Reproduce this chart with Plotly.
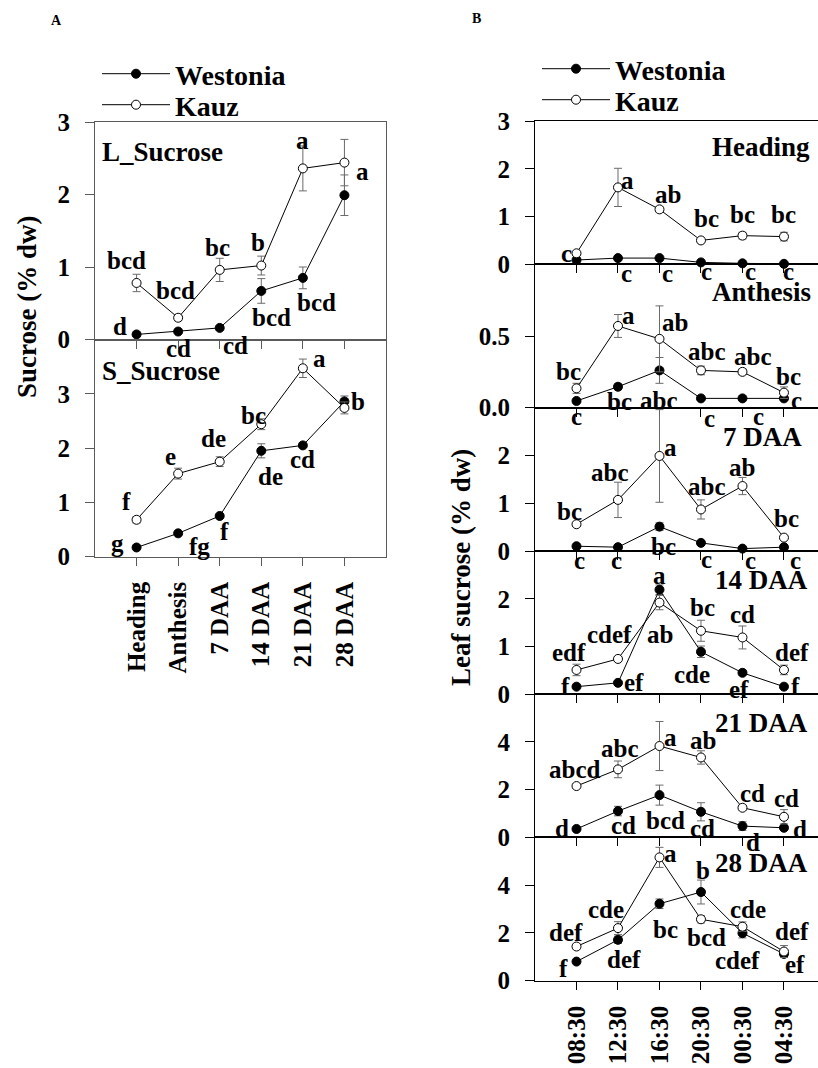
import plotly.graph_objects as go

W, H = 818, 1068

# ---------------- data ----------------
stages = ["Heading", "Anthesis", "7 DAA", "14 DAA", "21 DAA", "28 DAA"]
times = ["08:30", "12:30", "16:30", "20:30", "00:30", "04:30"]

# Panel A – L_Sucrose
L_west = [0.07, 0.11, 0.16, 0.67, 0.85, 1.99]
L_west_err = [0.02, 0.02, 0.02, 0.17, 0.15, 0.28]
L_kauz = [0.78, 0.30, 0.96, 1.02, 2.36, 2.44]
L_kauz_err = [0.12, 0.04, 0.16, 0.13, 0.31, 0.32]
L_west_let = ["d", "cd", "cd", "bcd", "bcd", ""]
L_kauz_let = ["bcd", "bcd", "bc", "b", "a", "a"]

# Panel A – S_Sucrose
S_west = [0.17, 0.43, 0.75, 1.95, 2.05, 2.86]
S_west_err = [0.03, 0.03, 0.03, 0.13, 0.04, 0.10]
S_kauz = [0.68, 1.53, 1.75, 2.44, 3.47, 2.74]
S_kauz_err = [0.06, 0.10, 0.09, 0.10, 0.17, 0.11]
S_west_let = ["g", "fg", "f", "de", "cd", "b"]
S_kauz_let = ["f", "e", "de", "bc", "a", ""]

# Panel B – leaf sucrose over the day
hd_west = [0.09, 0.13, 0.13, 0.04, 0.02, 0.01]
hd_west_err = [0.02, 0.02, 0.02, 0.01, 0.01, 0.01]
hd_kauz = [0.23, 1.61, 1.15, 0.50, 0.60, 0.58]
hd_kauz_err = [0.03, 0.40, 0.05, 0.05, 0.07, 0.09]
hd_west_let = ["", "c", "c", "c", "c", "c"]
hd_kauz_let = ["c", "a", "ab", "bc", "bc", "bc"]

an_west = [0.047, 0.146, 0.26, 0.065, 0.065, 0.065]
an_west_err = [0.01, 0.02, 0.09, 0.005, 0.005, 0.005]
an_kauz = [0.135, 0.57, 0.48, 0.26, 0.25, 0.105]
an_kauz_err = [0.035, 0.08, 0.23, 0.03, 0.02, 0.04]
an_west_let = ["c", "bc", "abc", "c", "c", "c"]
an_kauz_let = ["bc", "a", "ab", "abc", "abc", "bc"]

d7_west = [0.10, 0.08, 0.51, 0.17, 0.05, 0.08]
d7_west_err = [0.02, 0.02, 0.08, 0.02, 0.02, 0.02]
d7_kauz = [0.56, 1.07, 1.99, 0.87, 1.36, 0.28]
d7_kauz_err = [0.04, 0.37, 0.97, 0.20, 0.18, 0.04]
d7_west_let = ["c", "c", "bc", "c", "c", "c"]
d7_kauz_let = ["bc", "abc", "a", "abc", "ab", "bc"]

d14_west = [0.16, 0.24, 2.19, 0.89, 0.45, 0.16]
d14_west_err = [0.03, 0.03, 0.10, 0.12, 0.04, 0.03]
d14_kauz = [0.51, 0.74, 1.92, 1.33, 1.19, 0.51]
d14_kauz_err = [0.12, 0.04, 0.15, 0.22, 0.24, 0.10]
d14_west_let = ["f", "ef", "a", "cde", "ef", "f"]
d14_kauz_let = ["edf", "cdef", "ab", "bc", "cd", "def"]

d21_west = [0.35, 1.10, 1.77, 1.07, 0.47, 0.40]
d21_west_err = [0.05, 0.20, 0.42, 0.38, 0.18, 0.08]
d21_kauz = [2.15, 2.85, 3.83, 3.35, 1.24, 0.86]
d21_kauz_err = [0.08, 0.35, 1.03, 0.28, 0.10, 0.30]
d21_west_let = ["d", "cd", "bcd", "cd", "d", "d"]
d21_kauz_let = ["abcd", "abc", "a", "ab", "cd", "cd"]

d28_west = [0.80, 1.71, 3.22, 3.71, 1.99, 1.12]
d28_west_err = [0.08, 0.15, 0.20, 0.50, 0.20, 0.15]
d28_kauz = [1.43, 2.20, 5.16, 2.57, 2.26, 1.22]
d28_kauz_err = [0.10, 0.27, 0.42, 0.15, 0.20, 0.25]
d28_west_let = ["f", "def", "bc", "b", "cdef", "ef"]
d28_kauz_let = ["def", "cde", "a", "bcd", "cde", "def"]

# ---------------- label placement (pixel offsets dx, dy; dy down) ----------------
L_west_off = [(-17, -8), (0, 17), (16, 18), (10, 27), (14, 25), (0, 0)]
L_kauz_off = [(-10, -22), (-3, -27), (-2, -22), (-3, -23), (0, -28), (18, 9)]
S_west_off = [(-19, -4), (21, 13), (5, 16), (9, 26), (0, 14), (14, 0)]
S_kauz_off = [(-10, -18), (-8, -17), (-6, -23), (-8, -9), (17, -10), (0, 0)]
hd_west_off = [(0, 0), (9, 15), (8, 15), (6, 9), (8, 8), (5, 8)]
hd_kauz_off = [(-10, 0), (10, -7), (9, -15), (6, -22), (0, -21), (0, -22)]
an_west_off = [(0, 16), (2, 15), (0, 30), (9, 20), (16, 18), (13, 2)]
an_kauz_off = [(-8, -17), (11, -10), (16, -16), (6, -19), (11, -15), (5, -16)]
d7_west_off = [(3, 14), (-1, 13), (4, 20), (6, 17), (8, 12), (12, 13)]
d7_kauz_off = [(-7, -13), (-8, -27), (11, -8), (6, -23), (0, -19), (3, -19)]
d14_west_off = [(-11, 0), (16, 0), (0, -14), (-9, 23), (-3, 17), (12, 0)]
d14_kauz_off = [(-8, -17), (-8, -24), (1, 32), (2, -23), (0, -23), (8, -17)]
d21_west_off = [(-15, 0), (6, 14), (6, 25), (2, 17), (11, 16), (16, 2)]
d21_kauz_off = [(-2, -17), (2, -21), (11, -9), (2, -17), (10, -14), (3, -18)]
d28_west_off = [(-13, 7), (6, 20), (6, 26), (2, -22), (-5, 27), (11, 11)]
d28_kauz_off = [(-11, -14), (-12, -19), (11, -4), (6, 18), (6, -17), (8, -20)]

FONT = "Liberation Serif"


def py(p):
    return 1 - p / H


def px(p):
    return p / W


panels = [
    (L_west, L_west_err, L_kauz, L_kauz_err, L_west_let, L_kauz_let, L_west_off, L_kauz_off,
     "L_Sucrose", (100, 151.7, "left"), (122, 339.5), [0, 3], [0, 1, 2, 3], ["0", "1", "2", "3"], "A"),
    (S_west, S_west_err, S_kauz, S_kauz_err, S_west_let, S_kauz_let, S_west_off, S_kauz_off,
     "S_Sucrose", (100, 371, "left"), (339.5, 556.7), [0, 4], [0, 1, 2, 3], ["0", "1", "2", "3"], "A"),
    (hd_west, hd_west_err, hd_kauz, hd_kauz_err, hd_west_let, hd_kauz_let, hd_west_off, hd_kauz_off,
     "Heading", (812, 146.7, "right"), (121, 264.3), [0, 3], [0, 1, 2, 3], ["0", "1", "2", "3"], "B"),
    (an_west, an_west_err, an_kauz, an_kauz_err, an_west_let, an_kauz_let, an_west_off, an_kauz_off,
     "Anthesis", (813, 292, "right"), (264.3, 407.7), [0, 1], [0, 0.5], ["0.0", "0.5"], "B"),
    (d7_west, d7_west_err, d7_kauz, d7_kauz_err, d7_west_let, d7_kauz_let, d7_west_off, d7_kauz_off,
     "7 DAA", (804, 436.7, "right"), (407.7, 551), [0, 3], [0, 1, 2], ["0", "1", "2"], "B"),
    (d14_west, d14_west_err, d14_kauz, d14_kauz_err, d14_west_let, d14_kauz_let, d14_west_off, d14_kauz_off,
     "14 DAA", (810, 580, "right"), (551, 694.3), [0, 3], [0, 1, 2], ["0", "1", "2"], "B"),
    (d21_west, d21_west_err, d21_kauz, d21_kauz_err, d21_west_let, d21_kauz_let, d21_west_off, d21_kauz_off,
     "21 DAA", (810, 723.3, "right"), (694.3, 837.3), [0, 6], [0, 2, 4], ["0", "2", "4"], "B"),
    (d28_west, d28_west_err, d28_kauz, d28_kauz_err, d28_west_let, d28_kauz_let, d28_west_off, d28_kauz_off,
     "28 DAA", (810, 863.3, "right"), (837.3, 980.7), [0, 6], [0, 2, 4], ["0", "2", "4"], "B"),
]

fig = go.Figure()
annotations = []
layout = {}

for i, (w, we, k, ke, wl, kl, wo, ko, title, tpos, ydom, yr, tv, tt, grp) in enumerate(panels, start=1):
    cats = stages if grp == "A" else times
    xs = list(range(len(cats)))
    xa = "x" if i == 1 else f"x{i}"
    ya = "y" if i == 1 else f"y{i}"
    lc = "#5a5a5a" if grp == "A" else "#000000"
    ec = "#6a6a6a"
    first = (i == 1) or (i == 3)
    lw_name = "legend" if i == 1 else "legend3"
    lk_name = "legend2" if i == 1 else "legend4"
    fig.add_trace(go.Scatter(
        x=xs, y=w, name="Westonia", xaxis=xa, yaxis=ya, mode="lines+markers",
        line=dict(color="black", width=1),
        marker=dict(symbol="circle", size=9, color="black", line=dict(color="black", width=1)),
        error_y=dict(type="data", array=we, visible=True, color=ec, thickness=1, width=4),
        cliponaxis=False, showlegend=first, legend=lw_name))
    fig.add_trace(go.Scatter(
        x=xs, y=k, name="Kauz", xaxis=xa, yaxis=ya, mode="lines+markers",
        line=dict(color="black", width=1),
        marker=dict(symbol="circle", size=9, color="white", line=dict(color="black", width=1)),
        error_y=dict(type="data", array=ke, visible=True, color=ec, thickness=1, width=4),
        cliponaxis=False, showlegend=first, legend=lk_name))

    for vals, lets, offs in ((w, wl, wo), (k, kl, ko)):
        for xi, v, t, (dx, dy) in zip(xs, vals, lets, offs):
            if not t:
                continue
            annotations.append(dict(
                x=xi, y=v, xref=xa, yref=ya, text=t, showarrow=False,
                xshift=dx, yshift=-dy, xanchor="center", yanchor="middle",
                font=dict(family=FONT, size=25, color="black", weight="bold")))

    annotations.append(dict(
        x=px(tpos[0]), y=py(tpos[1]), xref="paper", yref="paper", text=title,
        showarrow=False, xanchor=tpos[2], yanchor="middle",
        font=dict(family=FONT, size=27, color="black", weight="bold")))

    if grp == "A":
        xdom = [px(95), px(386)]
        xr = [-1, 6]
        bottom = (i == 2)
    else:
        xdom = [px(535), 1.0]
        xr = [-1, 5.82]
        bottom = (i == 8)

    xkey = "xaxis" if i == 1 else f"xaxis{i}"
    ykey = "yaxis" if i == 1 else f"yaxis{i}"
    layout[xkey] = dict(
        domain=xdom, range=xr, anchor=ya, tickmode="array", tickvals=xs, ticktext=cats,
        showticklabels=bottom, tickangle=-90, ticks="outside", ticklen=8, tickwidth=1,
        tickcolor=lc, showline=True, linecolor=lc, linewidth=1.2, mirror=True,
        showgrid=False, zeroline=False, ticklabelstandoff=6, automargin=False,
        tickfont=dict(family=FONT, size=25, color="black", weight="bold"))
    layout[ykey] = dict(
        domain=[py(ydom[1]), py(ydom[0])], range=yr, anchor=xa, tickmode="array",
        tickvals=tv, ticktext=tt, ticks="outside", ticklen=9, tickwidth=1, tickcolor=lc,
        showline=True, linecolor=lc, linewidth=1.2, mirror=(grp == "A"),
        showgrid=False, zeroline=False, ticklabelstandoff=10, automargin=False,
        tickfont=dict(family=FONT, size=25, color="black", weight="bold"))

annotations.append(dict(x=px(27), y=py(307), xref="paper", yref="paper", text="Sucrose (% dw)",
                        textangle=-90, showarrow=False, xanchor="center", yanchor="middle",
                        font=dict(family=FONT, size=27, color="black", weight="bold")))
annotations.append(dict(x=px(461), y=py(567), xref="paper", yref="paper", text="Leaf sucrose (% dw)",
                        textangle=-90, showarrow=False, xanchor="center", yanchor="middle",
                        font=dict(family=FONT, size=27, color="black", weight="bold")))
annotations.append(dict(x=px(56), y=py(20), xref="paper", yref="paper", text="A", showarrow=False,
                        xanchor="center", yanchor="middle",
                        font=dict(family=FONT, size=14, color="black", weight="bold")))
annotations.append(dict(x=px(476), y=py(19), xref="paper", yref="paper", text="B", showarrow=False,
                        xanchor="center", yanchor="middle",
                        font=dict(family=FONT, size=14, color="black", weight="bold")))

leg_font = dict(family=FONT, size=28, color="black", weight="bold")


def leg(xp, yp):
    return dict(x=px(xp), y=py(yp), xanchor="left", yanchor="middle", font=leg_font,
                bgcolor="rgba(0,0,0,0)", borderwidth=0, itemwidth=68)


layout["legend"] = leg(97, 74)
layout["legend2"] = leg(97, 105)
layout["legend3"] = leg(537, 69)
layout["legend4"] = leg(537, 100)

fig.update_layout(
    width=W, height=H, margin=dict(l=0, r=0, t=0, b=0, autoexpand=False),
    paper_bgcolor="white", plot_bgcolor="white",
    annotations=annotations, **layout)

fig.write_html("out.html", config={"displayModeBar": False},
               post_script="document.body.style.margin='0px';")
